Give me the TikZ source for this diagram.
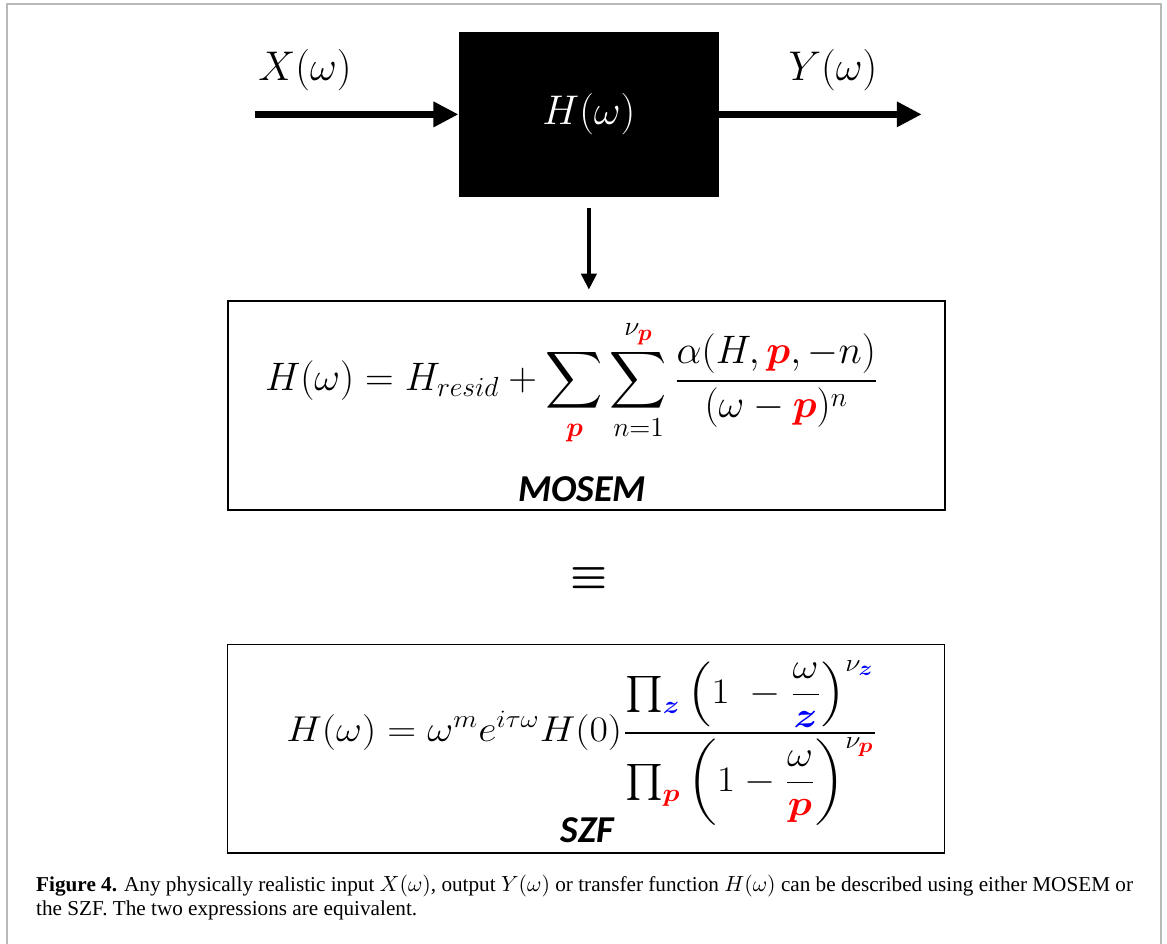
\documentclass[tikz,border=0pt]{standalone}
\usepackage{amsmath,amssymb}
\usepackage{fontspec}
\usepackage{tikz}
\usetikzlibrary{arrows.meta,positioning}
\newfontfamily\labelfont{Carlito}
\newfontfamily\capfont{Liberation Serif}
\newcommand{\polep}{{\color{red}\boldsymbol{p}}}
\newcommand{\zeroz}{{\color{blue}\boldsymbol{z}}}

\begin{document}
\begin{tikzpicture}[every node/.style={inner sep=0pt},
	blackbox/.style={fill=black, text=white, minimum width=4.57cm, minimum height=2.9cm, font=\fontsize{20.74}{24}\selectfont},
	sig/.style={line width=3.5pt, -{Triangle[length=12.5pt,width=12pt]}},
	eqbox/.style={draw, line width=0.8pt, minimum width=12.6cm, minimum height=3.67cm},
	eqtext/.style={font=\fontsize{17.28}{20}\selectfont, transform shape},
	tag/.style={font=\labelfont\bfseries\itshape\fontsize{19}{22}\selectfont}]
	\useasboundingbox (0,0) rectangle (20.51,-16.59);
	\draw[gray!55, line width=0.9pt] (0.12,-16.59) |- (20.40,-0.07) -- (20.40,-16.59);
	\node[blackbox] (sys) at (10.35,-2.01) {$H(\omega)$};
	\coordinate (inp) at (4.48,-2.01);
	\coordinate (outp) at (16.20,-2.01);
	\draw[sig] (inp) -- (sys);
	\draw[sig] (sys) -- (outp);
	\node[font=\fontsize{20.74}{24}\selectfont] (xlbl) at (5.36,-1.23) {$X(\omega)$};
	\node[font=\fontsize{20.74}{24}\selectfont] (ylbl) at (14.64,-1.23) {$Y(\omega)$};
	\node[eqbox] (mosem) at (10.31,-7.13) {};
	\draw[line width=2pt, -{Triangle[length=8pt,width=7.5pt]}] ([yshift=-1.8mm]sys.south) -- ([yshift=1.9mm]mosem.north -| sys.south);
	\node[eqtext, scale=1.15] (mosemeq) at (10.05,-6.73) {$\displaystyle H(\omega)=H_{resid}+\sum_{\polep}\sum_{n=1}^{\nu_{\polep}}\frac{\alpha(H,\polep,-n)}{(\omega-\polep)^{n}}$};
	\node[tag] (mosemlbl) at (10.23,-8.59) {MOSEM};
	\node[font=\fontsize{20.74}{24}\selectfont] (equiv) at (10.35,-10.16) {$\boldsymbol{\equiv}$};
	\node[eqbox] (szf) at (10.30,-13.16) {};
	\node[eqtext, xscale=1.16, yscale=1.04] (szfeq) at (10.23,-13.06) {$\displaystyle H(\omega)=\omega^{m}e^{i\tau\omega}H(0)\frac{\textstyle\prod_{\zeroz}\left(1\;-\dfrac{\omega}{\zeroz}\right)^{\nu_{\zeroz}}}{\textstyle\prod_{\polep}\left(1-\dfrac{\omega}{\polep}\right)^{\nu_{\polep}}}$};
	\node[tag] (szflbl) at (10.32,-14.59) {SZF};
	\node[anchor=north west, align=left, font=\capfont\fontsize{10.6}{12}\selectfont] (caption) at (0.63,-15.38) {\textbf{Figure 4.} Any physically realistic input $X(\omega)$, output $Y(\omega)$ or transfer function $H(\omega)$ can be described using either MOSEM or\\the SZF. The two expressions are equivalent.};
\end{tikzpicture}
\end{document}
